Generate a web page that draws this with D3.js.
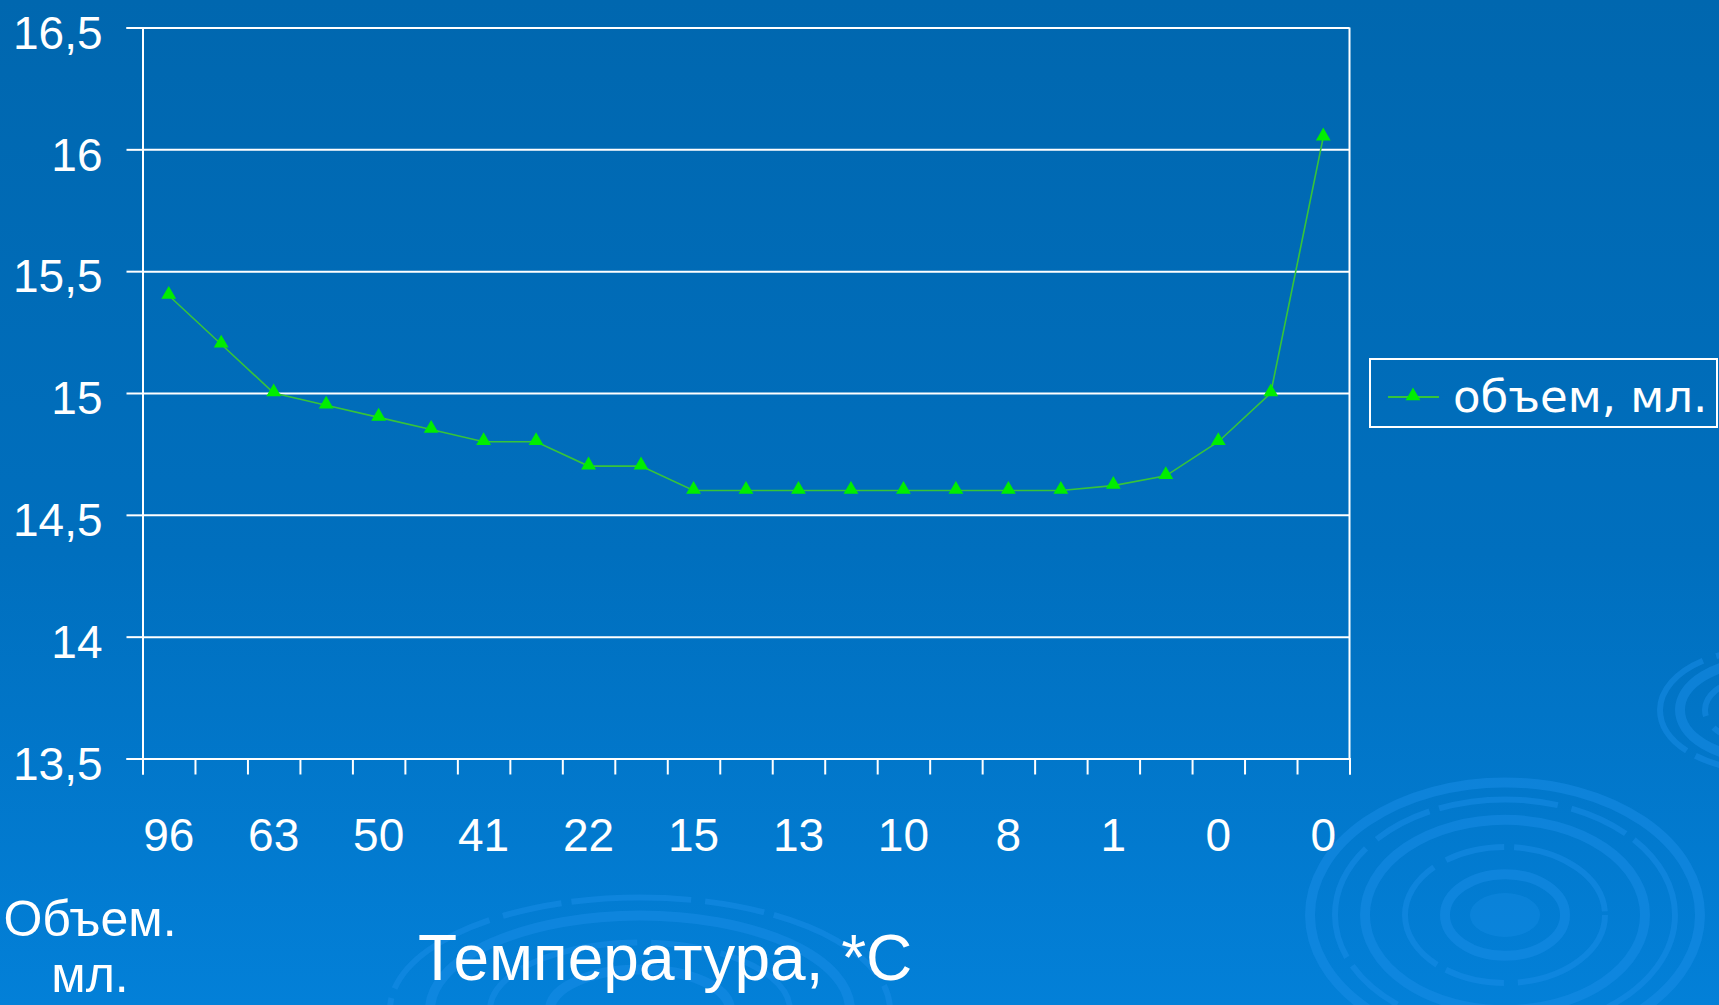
<!DOCTYPE html>
<html>
<head>
<meta charset="utf-8">
<script src="https://cdn.jsdelivr.net/npm/d3@7"></script>
<style>
  html, body { margin: 0; padding: 0; overflow: hidden; }
  body { width: 1719px; height: 1005px; }
  text { font-family: "Liberation Sans", Arial, sans-serif; fill: #fff; }
</style>
</head>
<body>
<div id="chart"></div>
<script>
// temperatures (every second one is printed under the axis)
const temps = ["96", "80", "63", "56", "50", "45", "41", "30", "22", "18", "15", "14",
               "13", "12", "10", "9", "8", "5", "1", "0", "0", "0", "0"];
const volume = [15.4, 15.2, 15.0, 14.95, 14.9, 14.85, 14.8, 14.8, 14.7, 14.7, 14.6, 14.6,
                14.6, 14.6, 14.6, 14.6, 14.6, 14.6, 14.62, 14.66, 14.8, 15.0, 16.05];
const yTicks = [13.5, 14, 14.5, 15, 15.5, 16, 16.5];
const seriesName = "объем, мл.";

const W = 1719, H = 1005;
const margin = { t: 27.5, l: 142.5, r: 369.5, b: 246.5 };
const inner_w = W - margin.l - margin.r;
const inner_h = H - margin.t - margin.b;

const svg = d3.select("#chart").append("svg").attr("width", W).attr("height", H);

// background
const defs = svg.append("defs");
const grad = defs.append("linearGradient").attr("id", "bg").attr("x1", 0).attr("y1", 0).attr("x2", 0).attr("y2", 1);
grad.append("stop").attr("offset", "0%").attr("stop-color", "#0067af");
grad.append("stop").attr("offset", "55%").attr("stop-color", "#006fbe");
grad.append("stop").attr("offset", "100%").attr("stop-color", "#0380d8");
svg.append("rect").attr("width", W).attr("height", H).attr("fill", "url(#bg)");

// ripple decoration
const ripples = [
  { cx: 1505, cy: 915, rx: [60, 100, 140, 170, 195], k: 0.68 },
  { cx: 1760, cy: 710, rx: [30, 55, 80, 100], k: 0.6 },
  { cx: 640, cy: 1010, rx: [90, 150, 210, 250], k: 0.45 }
];
ripples.forEach(r => {
  r.rx.forEach((rx, i) => {
    svg.append("ellipse")
      .attr("cx", r.cx).attr("cy", r.cy)
      .attr("rx", rx).attr("ry", rx * r.k)
      .attr("fill", "none")
      .attr("stroke", "#1a8ee8")
      .attr("stroke-opacity", 0.5)
      .attr("stroke-width", i % 2 ? 6 : 10)
      .attr("stroke-dasharray", i % 2 ? "120 14 60 10" : null);
  });
});
svg.append("ellipse").attr("cx", 1505).attr("cy", 915).attr("rx", 35).attr("ry", 22)
  .attr("fill", "#1a8ee8").attr("fill-opacity", 0.35);

const x = d3.scaleBand().domain(d3.range(temps.length)).range([0, inner_w]).padding(0);
const xEdge = d3.scaleLinear().domain([0, temps.length]).range([0, inner_w]);
const y = d3.scaleLinear().domain([13.5, 16.5]).range([inner_h, 0]);

const g = svg.append("g").attr("transform", `translate(${margin.l},${margin.t})`);

// gridlines
g.append("g")
  .call(d3.axisLeft(y).tickValues(yTicks).tickSize(-inner_w).tickFormat(""))
  .call(a => a.select(".domain").remove())
  .call(a => a.selectAll("line").attr("stroke", "#fff").attr("stroke-width", 2));

// right border of plot
g.append("line").attr("x1", inner_w).attr("x2", inner_w).attr("y1", 0).attr("y2", inner_h)
  .attr("stroke", "#fff").attr("stroke-width", 2);

// y axis
const fmt = v => String(v).replace(".", ",");
g.append("g")
  .call(d3.axisLeft(y).tickValues(yTicks).tickSize(16).tickPadding(24).tickFormat(fmt))
  .call(a => a.select(".domain").attr("stroke", "#fff").attr("stroke-width", 2))
  .call(a => a.selectAll("line").attr("stroke", "#fff").attr("stroke-width", 2))
  .call(a => a.selectAll("text").attr("font-size", 46).attr("dy", "0.45em")
    .style("font-family", "'Liberation Sans', Arial, sans-serif").attr("fill", "#fff"));

// x axis tick marks at category edges
g.append("g").attr("transform", `translate(0,${inner_h})`)
  .call(d3.axisBottom(xEdge).tickValues(d3.range(temps.length + 1)).tickSize(16).tickFormat(""))
  .call(a => a.select(".domain").attr("stroke", "#fff").attr("stroke-width", 2))
  .call(a => a.selectAll("line").attr("stroke", "#fff").attr("stroke-width", 2));

// x labels (every second category)
g.append("g").attr("transform", `translate(0,${inner_h})`)
  .call(d3.axisBottom(x).tickSize(0).tickPadding(92)
    .tickValues(d3.range(0, temps.length, 2)).tickFormat(i => temps[i]))
  .call(a => a.select(".domain").remove())
  .call(a => a.selectAll("text").attr("font-size", 46).attr("dy", 0)
    .style("font-family", "'Liberation Sans', Arial, sans-serif").attr("fill", "#fff"));

// series
const cx = i => x(i) + x.bandwidth() / 2;
const line = d3.line().x((d, i) => cx(i)).y(d => y(d));
g.append("path").datum(volume).attr("d", line)
  .attr("fill", "none").attr("stroke", "#36c43a").attr("stroke-width", 1.6);

const tri = d3.symbol().type(d3.symbolTriangle).size(95);
g.selectAll(".pt").data(volume).enter().append("path")
  .attr("class", "pt")
  .attr("d", tri)
  .attr("transform", (d, i) => `translate(${cx(i)},${y(d) - 1})`)
  .attr("fill", "#00ee00");

// legend
const lg = svg.append("g").attr("transform", "translate(1370,359)");
lg.append("rect").attr("width", 347).attr("height", 68)
  .attr("fill", "none").attr("stroke", "#fff").attr("stroke-width", 2);
lg.append("line").attr("x1", 18).attr("x2", 69).attr("y1", 38).attr("y2", 38)
  .attr("stroke", "#36c43a").attr("stroke-width", 2);
lg.append("path").attr("d", tri).attr("transform", "translate(43,37)").attr("fill", "#00ee00");
lg.append("text").attr("x", 83).attr("y", 53).attr("font-size", 45)
  .style("font-family", "'DejaVu Sans', Verdana, sans-serif").text(seriesName);

// axis titles
const yt = svg.append("text").attr("text-anchor", "middle").attr("font-size", 50);
yt.append("tspan").attr("x", 90).attr("y", 936).text("Объем.");
yt.append("tspan").attr("x", 90).attr("y", 992).text("мл.");

svg.append("text").attr("x", 418).attr("y", 980).attr("font-size", 64)
  .text("Температура, *С");
</script>
</body>
</html>
